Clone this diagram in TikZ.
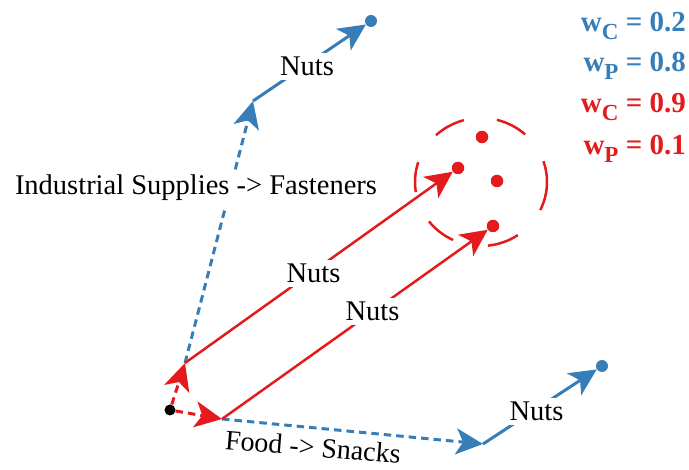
\documentclass[tikz,border=0pt]{standalone}
\usepackage{fontspec}
\setmainfont{Liberation Serif}
\usetikzlibrary{arrows.meta}
\definecolor{cblue}{HTML}{377EB8}
\definecolor{cred}{HTML}{E41A1C}
\newcommand{\wsubx}[1]{\raisebox{-8pt}{\fontsize{23}{23}\selectfont\bfseries #1}}
\begin{document}
\begin{tikzpicture}[x=1pt,y=-1pt,
  head/.style={-{Stealth[length=27pt,width=26pt,inset=7pt]}},
  bsolid/.style={cblue,line width=3pt,head},
  bdash/.style={cblue,line width=3pt,dash pattern=on 7.5pt off 5pt,head},
  rsolid/.style={cred,line width=2.5pt,head},
  rdash/.style={cred,line width=3pt,dash pattern=on 7.5pt off 5pt,head},
  dotnode/.style={circle,inner sep=0pt,minimum size=#1},
  lbl/.style={font=\fontsize{28.5}{32}\selectfont,fill=white,inner sep=4pt,anchor=base},
  wt/.style={font=\fontsize{29}{30}\selectfont\bfseries,anchor=base east,inner sep=0pt},
  circdash/.style={cred,line width=2.5pt},
]
\useasboundingbox (0,0) rectangle (689,470);
% dots
\node[dotnode=11pt,fill=black] (O) at (170,410) {};
\node[dotnode=12pt,fill=cblue] (D) at (371,21) {};
\node[dotnode=12pt,fill=cblue] (F) at (602,366) {};
\node[dotnode=12.5pt,fill=cred] (R1) at (458,168) {};
\node[dotnode=12.5pt,fill=cred] (R2) at (482,137) {};
\node[dotnode=12.5pt,fill=cred] (R3) at (497,181) {};
\node[dotnode=12.5pt,fill=cred] (R4) at (493,226) {};
\coordinate (A) at (185,363);
\coordinate (B) at (222,419);
\coordinate (C) at (253,101);
\coordinate (E) at (483,444);
\coordinate (CC) at (481,182);
% dashed circle
\foreach \a/\b in {-26/19,48/76,105/133,162/189,218/245,276/304}
  \draw[circdash] (CC) ++({-\a}:66 and 64) arc[start angle=-\a, end angle=-\b, x radius=66, y radius=64];
% connectors
\draw[bdash] (A) -- (C);
\draw[bsolid] (C) -- (D);
\draw[bdash] (B) -- (E);
\draw[bsolid] (E) -- (F);
\draw[rsolid] (A) -- (R1);
\draw[rsolid] (B) -- (R4);
\draw[rdash] (O) -- (A);
\draw[rdash] (O) -- (B);
% labels
\node[lbl] (l1) at (307,76) {Nuts};
\node[lbl,inner sep=5pt] (l2) at (196,195) {Industrial Supplies -> Fasteners};
\node[lbl] (l3) at (313.5,283) {Nuts};
\node[lbl] (l4) at (372.5,321) {Nuts};
\node[lbl] (l5) at (536.5,421) {Nuts};
\node[font=\fontsize{28}{32}\selectfont,rotate=-4.7,inner sep=0pt] (l6) at (313,447) {Food -> Snacks};
% weights
\node[wt,cblue] (w1) at (686,32) {w\wsubx{C} = 0.2};
\node[wt,cblue] (w2) at (686,72) {w\wsubx{P} = 0.8};
\node[wt,cred] (w3) at (686,113) {w\wsubx{C} = 0.9};
\node[wt,cred] (w4) at (686,155) {w\wsubx{P} = 0.1};
\end{tikzpicture}
\end{document}
